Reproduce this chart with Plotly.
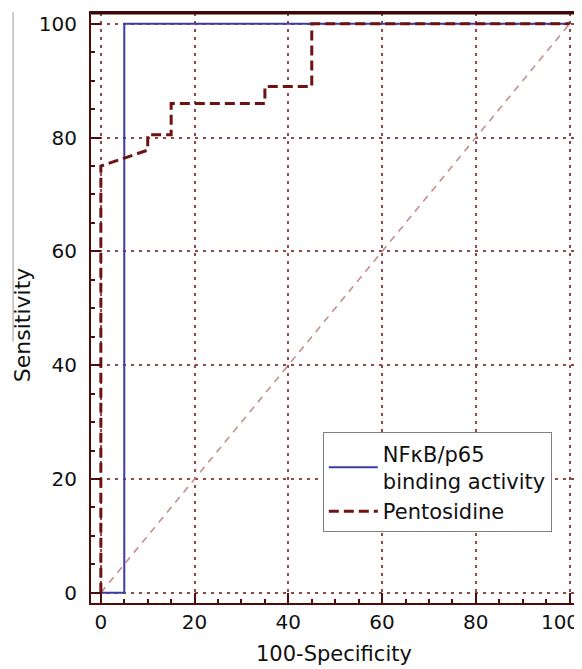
import plotly.graph_objects as go

# ROC curve data (100-Specificity, Sensitivity)
nfkb_x = [0, 5, 5, 100]
nfkb_y = [0, 0, 100, 100]
pento_x = [0, 0, 10, 10, 15, 15, 35, 35, 45, 45, 100]
pento_y = [0, 75, 77.8, 80.5, 80.5, 86, 86, 89, 89, 100, 100]
diag_x = [0, 100]
diag_y = [0, 100]
tick_vals = [0, 20, 40, 60, 80, 100]
y_tick_text = ["0", "20", "40", "60", "80", "100"]
# last x label padded with invisible characters so it sits inside the page
x_tick_text = ["0", "20", "40", "60", "80",
               "100<span style='color:rgba(0,0,0,0)'>0.</span>"]
names = ["NFκB/p65<br>binding activity", "Pentosidine"]

FRAME = "#4e0c0c"
GRID = "#8e4a4a"
FONT = "DejaVu Sans, Verdana, sans-serif"

fig = go.Figure()
fig.add_trace(go.Scatter(x=diag_x, y=diag_y, mode="lines", showlegend=False,
                         line=dict(color="#c4908c", width=1.6, dash="7px,6px"),
                         hoverinfo="skip"))
fig.add_trace(go.Scatter(x=nfkb_x, y=nfkb_y, mode="lines", name=names[0],
                         line=dict(color="#3c3ca4", width=2)))
fig.add_trace(go.Scatter(x=pento_x, y=pento_y, mode="lines", name=names[1],
                         line=dict(color="#6e1212", width=3, dash="10px,5px")))

axis_common = dict(
    showline=True, linecolor=FRAME, linewidth=2, mirror=True,
    showgrid=True, gridcolor=GRID, griddash="3px,5px", gridwidth=2,
    zeroline=False, automargin=False,
    ticks="inside", ticklen=10, tickwidth=2, tickcolor=FRAME,
    tickvals=tick_vals, ticklabeloverflow="allow",
    minor=dict(dtick=5, ticks="inside", ticklen=4, tickwidth=2,
               tickcolor=FRAME, showgrid=False),
    tickfont=dict(family=FONT, size=20, color="#111111"),
)

fig.update_xaxes(range=[-2.1, 101.8], ticktext=x_tick_text, **axis_common)
fig.update_yaxes(range=[-1.8, 101.9], ticktext=y_tick_text,
                 ticklabelstandoff=8, **axis_common)

# the page body adds an 8px margin, so the figure is 8px smaller
fig.update_layout(
    width=574, height=661,
    margin=dict(l=83, r=4, t=5, b=65.5),
    plot_bgcolor="white", paper_bgcolor="white",
    font=dict(family=FONT, size=20, color="#111111"),
    legend=dict(x=0.476, y=0.289, xanchor="left", yanchor="top",
                bgcolor="white", bordercolor="#808080", borderwidth=1,
                font=dict(family=FONT, size=21, color="#111111"),
                itemwidth=49, tracegroupgap=0),
    annotations=[
        dict(text="Sensitivity", textangle=-90, xref="paper", yref="paper",
             x=-0.1417, y=0.4725, xanchor="center", yanchor="middle",
             showarrow=False, font=dict(family=FONT, size=22, color="#111111")),
        dict(text="100-Specificity", xref="paper", yref="paper",
             x=0.4983, y=-0.1101, xanchor="center", yanchor="bottom",
             showarrow=False, font=dict(family=FONT, size=21, color="#111111")),
    ],
    shapes=[
        dict(type="line", xref="paper", yref="paper", x0=0, x1=1, y0=1, y1=1,
             line=dict(color="#3a0808", width=3)),
        dict(type="line", xref="paper", yref="paper", x0=-0.16, x1=-0.16,
             y0=1.0017, y1=0.443, line=dict(color="#9a9a9a", width=1)),
    ],
)

fig.write_html("out.html")
